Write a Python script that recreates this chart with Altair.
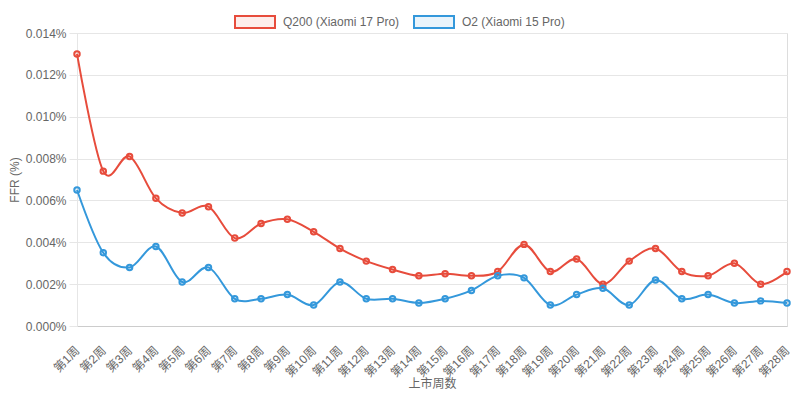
import altair as alt
import pandas as pd

weeks = ["第1周", "第2周", "第3周", "第4周", "第5周", "第6周", "第7周",
         "第8周", "第9周", "第10周", "第11周", "第12周", "第13周", "第14周",
         "第15周", "第16周", "第17周", "第18周", "第19周", "第20周", "第21周",
         "第22周", "第23周", "第24周", "第25周", "第26周", "第27周", "第28周"]

q200 = [0.0130, 0.0074, 0.0081, 0.0061, 0.0054, 0.0057, 0.0042, 0.0049,
        0.0051, 0.0045, 0.0037, 0.0031, 0.0027, 0.0024, 0.0025, 0.0024,
        0.0026, 0.0039, 0.0026, 0.0032, 0.0020, 0.0031, 0.0037, 0.0026,
        0.0024, 0.0030, 0.0020, 0.0026]

o2 = [0.0065, 0.0035, 0.0028, 0.0038, 0.0021, 0.0028, 0.0013, 0.0013,
      0.0015, 0.0010, 0.0021, 0.0013, 0.0013, 0.0011, 0.0013, 0.0017,
      0.0024, 0.0023, 0.0010, 0.0015, 0.0018, 0.0010, 0.0022, 0.0013,
      0.0015, 0.0011, 0.0012, 0.0011]

series_names = ["Q200 (Xiaomi 17 Pro)", "O2 (Xiaomi 15 Pro)"]
line_colors = ["#e74c3c", "#3498db"]
fill_colors = ["rgba(231,76,60,0.1)", "rgba(52,152,219,0.1)"]
y_ticks = [0.0, 0.002, 0.004, 0.006, 0.008, 0.010, 0.012, 0.014]

rows = []
for name, vals in zip(series_names, [q200, o2]):
    for w, v in zip(weeks, vals):
        rows.append({"week": w, "series": name, "ffr": v})
df = pd.DataFrame(rows)

FONT = "Liberation Sans, Arial, Noto Sans CJK SC"
GRID = "#e6e6e6"

x_enc = alt.X(
    "week:N", sort=weeks,
    scale=alt.Scale(type="point", padding=0),
    axis=alt.Axis(title="上市周数", labelAngle=315, grid=False, ticks=False,
                  domainColor="#cccccc", labelColor="#666666", labelFontSize=12,
                  labelFont=FONT, titleFont="Noto Sans CJK SC", titleColor="#666666",
                  titleFontSize=12, titleFontWeight="normal", labelPadding=22,
                  titlePadding=0, labelAlign="right", labelBaseline="middle"),
)
y_enc = alt.Y(
    "ffr:Q",
    scale=alt.Scale(domain=[0, 0.014], nice=False, zero=True),
    axis=alt.Axis(values=y_ticks, labelExpr="format(datum.value, '.3f') + '%'",
                  title="FFR (%)", gridColor=GRID, domainColor=GRID, tickColor=GRID,
                  tickSize=8, labelPadding=3, labelColor="#666666", labelFontSize=12,
                  labelFont=FONT, titleFont=FONT, titleColor="#666666",
                  titleFontSize=12, titleFontWeight="normal", titlePadding=4),
)

legend = alt.Legend(title="\u00a0", titleOrient="left", titlePadding=157,
                    titleFontSize=12, orient="top", offset=1,
                    direction="horizontal", symbolType="M-1,-0.3L1,-0.3L1,0.3L-1,0.3Z",
                    symbolSize=1600, symbolStrokeWidth=2, labelFont=FONT,
                    labelFontSize=12, labelColor="#666666", labelOffset=7,
                    columnPadding=10)

stroke_enc = alt.Stroke("series:N",
                        scale=alt.Scale(domain=series_names, range=line_colors),
                        legend=legend)
fill_enc = alt.Fill("series:N",
                    scale=alt.Scale(domain=series_names, range=fill_colors),
                    legend=legend)

lines = alt.Chart(df).mark_line(interpolate="cardinal", tension=0, strokeWidth=2).encode(
    x=x_enc, y=y_enc, stroke=stroke_enc,
)

points = alt.Chart(df).mark_point(shape="circle", size=30, strokeWidth=2, opacity=1).encode(
    x=x_enc, y=y_enc, stroke=stroke_enc, fill=fill_enc,
)

chart = alt.layer(lines, points).properties(
    width=710, height=293,
    autosize=alt.AutoSizeParams(type="none"),
    padding={"left": 69, "top": 25, "right": 5, "bottom": 67},
).configure_view(stroke=None).configure(background="white")

chart.save("out.html", embed_options={"renderer": "svg", "actions": False})
